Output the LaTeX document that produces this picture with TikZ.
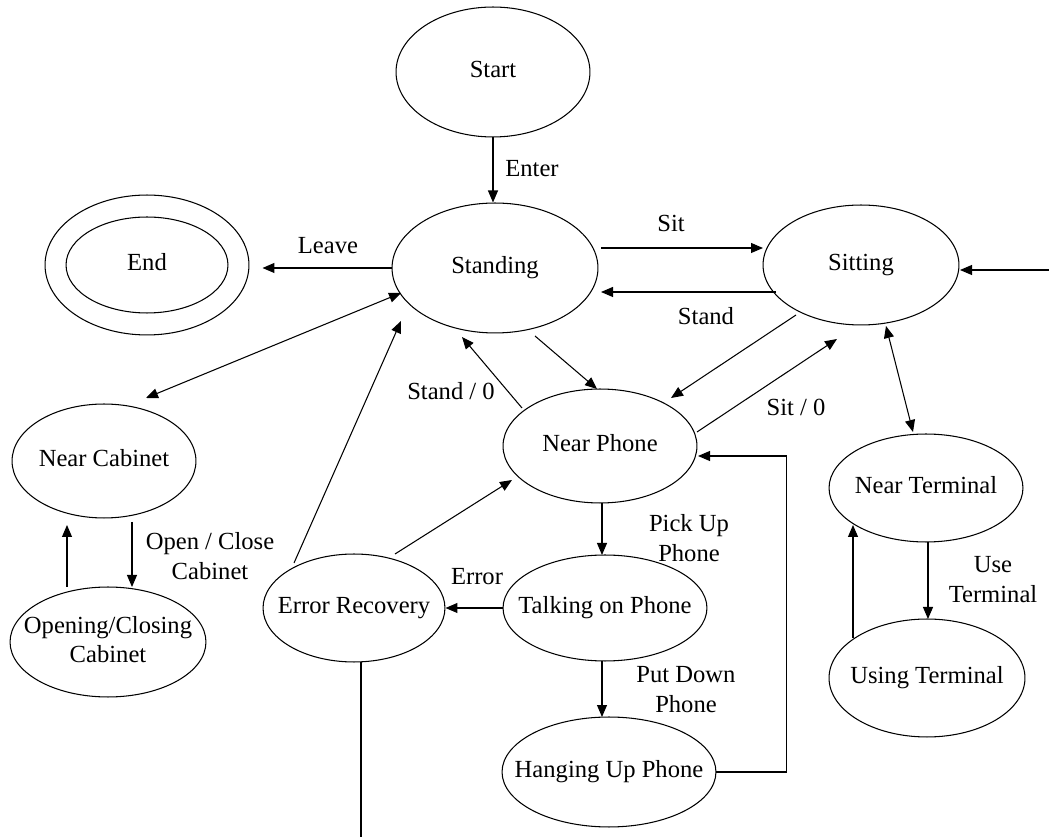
\documentclass[tikz,border=0pt]{standalone}
\usepackage{fontspec}
\setmainfont{Liberation Serif}
\usetikzlibrary{shapes.geometric,arrows.meta,calc}
\newcommand\stxt[1]{\makebox[0pt]{\raisebox{-2pt}{\begin{tabular}{@{}c@{}}#1\end{tabular}}}}
\begin{document}
\begin{tikzpicture}[x=0.02cm,y=-0.02cm,
  st/.style n args={2}{draw, ellipse, line width=0.6pt, inner sep=0pt,
    minimum width=#1*0.04cm, minimum height=#2*0.04cm,
    font=\fontsize{14}{17}\selectfont},
  lbl/.style={font=\fontsize{14}{17}\selectfont, align=center, inner sep=0pt},
  arr/.style={line width=0.6pt, -{Triangle[length=0.24cm,width=0.2cm]}},
  darr/.style={line width=0.6pt, {Triangle[length=0.24cm,width=0.2cm]}-{Triangle[length=0.24cm,width=0.2cm]}},
  ln/.style={line width=0.6pt}]
\useasboundingbox (0,0) rectangle (1049,837);

% states
\node[st={97}{65}] (start) at (493,72) {\stxt{Start}};
\node[st={103}{65}] (standing) at (495,268) {\stxt{Standing}};
\node[st={98}{60}] (sitting) at (861,265) {\stxt{Sitting}};
\node[st={102}{70}] (endn) at (147,265) {\stxt{End}};
\node[st={81}{48}] (endin) at (147,265) {};
\node[st={97}{57}] (nearphone) at (600,446) {\stxt{Near Phone}};
\node[st={92}{57}] (nearcab) at (104,461) {\stxt{Near Cabinet}};
\node[st={98}{55}] (opencab) at (108,642) {\stxt{Opening/Closing\\Cabinet}};
\node[st={91}{54}] (errrec) at (354,608) {\stxt{Error Recovery}};
\node[st={102}{53}] (talking) at (605,608) {\stxt{Talking on Phone}};
\node[st={107}{55}] (hanging) at (609,772) {\stxt{Hanging Up Phone}};
\node[st={97}{54}] (nearterm) at (926,488) {\stxt{Near Terminal}};
\node[st={98}{59}] (usingterm) at (927,678) {\stxt{Using Terminal}};

% free ends
\coordinate (rin) at (1049,270);
\coordinate (erbot) at (361,837);

% transitions
\draw[arr] (start.south) -- (start.south |- standing.north);
\draw[arr] (standing.west) -- ($(standing.west -| endn.east)+(13,0)$);
\draw[arr] ($(standing)+(106,-20)$) -- ($(sitting)+(-98,-17)$);
\draw[arr] ($(sitting)+(-85,27)$) -- ($(standing)+(106,24)$);
\draw[arr] (rin) -- ($(sitting)+(99,5)$);
\draw[darr] ($(standing)+(-94,25)$) -- ($(nearcab)+(42,-63)$);
\draw[arr] ($(errrec)+(-60,-45)$) -- ($(standing)+(-94,53)$);
\draw[arr] ($(nearphone)+(-78,-38)$) -- ($(standing)+(-33,69)$);
\draw[arr] ($(standing)+(40,68)$) -- ($(nearphone)+(-3,-57)$);
\draw[arr] ($(sitting)+(-65,50)$) -- ($(nearphone)+(71,-48)$);
\draw[arr] ($(nearphone)+(97,-14)$) -- ($(sitting)+(-24,74)$);
\draw[darr] ($(sitting)+(25,61)$) -- ($(nearterm)+(-13,-56)$);
\draw[arr] ($(nearcab)+(28,61)$) -- ($(opencab)+(24,-55)$);
\draw[arr] ($(opencab)+(-41,-55)$) -- ($(nearcab)+(-37,64)$);
\draw[arr] ($(errrec)+(41,-54)$) -- ($(nearphone)+(-88,34)$);
\draw[arr] (talking.west) -- (errrec.east);
\draw[arr] ($(nearphone)+(2,57)$) -- ($(talking)+(-3,-53)$);
\draw[arr] ($(talking)+(-3,53)$) -- ($(hanging)+(-7,-55)$);
\draw[arr] (hanging.east) -- ++(70,0) |- ($(nearphone)+(98,10)$);
\draw[ln] ($(errrec)+(7,54)$) -- (erbot);
\draw[arr] ($(nearterm)+(2,54)$) -- ($(usingterm)+(1,-59)$);
\draw[arr] ($(usingterm)+(-74,-40)$) -- ($(nearterm)+(-73,37)$);

% labels
\node[lbl] (lenter) at (532,169) {Enter};
\node[lbl] (lleave) at (328,246) {Leave};
\node[lbl] (lsit) at (671,223) {Sit};
\node[lbl] (lstand) at (706,316) {Stand};
\node[lbl] (lstand0) at (451,391) {Stand / 0};
\node[lbl] (lsit0) at (796,407) {Sit / 0};
\node[lbl] (lopen) at (210,556) {Open / Close\\Cabinet};
\node[lbl] (lerror) at (477,577) {Error};
\node[lbl] (lpick) at (689,538) {Pick Up\\Phone};
\node[lbl] (lput) at (686,690) {Put Down\\Phone};
\node[lbl] (luse) at (993,580) {Use\\Terminal};
\end{tikzpicture}
\end{document}
